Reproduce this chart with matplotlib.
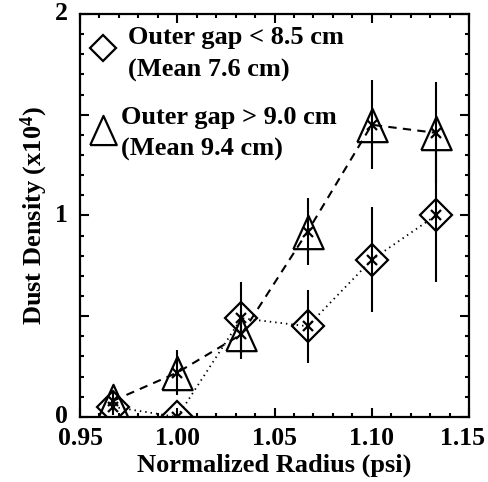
import numpy as np
import matplotlib
matplotlib.use('Agg')
import matplotlib.pyplot as plt
from matplotlib.ticker import MultipleLocator, FixedFormatter, FixedLocator
from matplotlib.transforms import ScaledTranslation

plt.rcParams['font.family'] = 'Liberation Serif'
plt.rcParams['font.weight'] = 'bold'
plt.rcParams['mathtext.fontset'] = 'custom'
plt.rcParams['mathtext.rm'] = 'Liberation Serif:bold'
plt.rcParams['mathtext.bf'] = 'Liberation Serif:bold'
plt.rcParams['mathtext.default'] = 'rm'

# data
radius = [0.967, 1.000, 1.033, 1.067, 1.100, 1.133]
small_gap = [0.05, 0.00, 0.49, 0.45, 0.78, 1.00]
small_err = [0.04, 0.00, 0.18, 0.18, 0.26, 0.33]
large_gap = [0.08, 0.22, 0.41, 0.92, 1.45, 1.41]
large_err = [0.05, 0.11, 0.12, 0.165, 0.22, 0.25]

x_ticks = [0.95, 1.00, 1.05, 1.10, 1.15]
x_ticklabels = ['0.95', '1.00', '1.05', '1.10', '1.15']
y_ticks = [0, 0.5, 1, 1.5, 2]
y_ticklabels = ['0', '', '1', '', '2']

# slightly tall open triangle, centred on the point (like the IDL symbol)
tri = [(-1, -1.1), (1, -1.1), (0, 1.1), (-1, -1.1)]

fig = plt.figure(figsize=(4.88, 4.82), dpi=100)
ax = fig.add_axes([0.164, 0.135, 0.797, 0.836])

# small gap: diamonds, dotted
ax.errorbar(radius, small_gap, yerr=small_err, fmt='none', ecolor='black', elinewidth=1.5)
ax.plot(radius, small_gap, color='black', linestyle=(0, (0.8, 2.2)), linewidth=1.3)
ax.plot(radius, small_gap, linestyle='none', marker='D', markersize=16.5,
        markerfacecolor='none', markeredgecolor='black', markeredgewidth=1.6)
ax.plot(radius, small_gap, linestyle='none', marker='x', markersize=7,
        color='black', markeredgewidth=1.6)

# large gap: triangles, dashed
ax.errorbar(radius, large_gap, yerr=large_err, fmt='none', ecolor='black', elinewidth=1.5)
ax.plot(radius, large_gap, color='black', linestyle=(0, (4, 3)), linewidth=1.5)
ax.plot(radius, large_gap, linestyle='none', marker=tri, markersize=24,
        markerfacecolor='none', markeredgecolor='black', markeredgewidth=1.6)
ax.plot(radius, large_gap, linestyle='none', marker='x', markersize=7,
        color='black', markeredgewidth=1.6)

# legend drawn by hand
ax.plot([0.059], [0.916], transform=ax.transAxes, marker='D', markersize=13.5,
        markerfacecolor='none', markeredgecolor='black', markeredgewidth=1.6, clip_on=False)
ax.text(0.123, 0.901, 'Outer gap < 8.5 cm\n(Mean 7.6 cm)', transform=ax.transAxes,
        fontsize=19, fontweight='bold', ha='left', va='center', linespacing=1.5)
ax.plot([0.059], [0.712], transform=ax.transAxes, marker=tri, markersize=21,
        markerfacecolor='none', markeredgecolor='black', markeredgewidth=1.6, clip_on=False)
ax.text(0.105, 0.703, 'Outer gap > 9.0 cm\n(Mean 9.4 cm)', transform=ax.transAxes,
        fontsize=19, fontweight='bold', ha='left', va='center', linespacing=1.5)

ax.set_xlim(0.95, 1.15)
ax.set_ylim(0, 2)
ax.xaxis.set_major_locator(FixedLocator(x_ticks))
ax.xaxis.set_major_formatter(FixedFormatter(x_ticklabels))
ax.xaxis.set_minor_locator(MultipleLocator(0.01))
ax.yaxis.set_major_locator(FixedLocator(y_ticks))
ax.yaxis.set_major_formatter(FixedFormatter(y_ticklabels))
ax.yaxis.set_minor_locator(MultipleLocator(0.1))

ax.tick_params(which='both', direction='in', top=True, right=True, width=1.5,
               labelsize=18.5)
ax.tick_params(which='major', length=6.5)
ax.tick_params(which='minor', length=3)
ax.tick_params(axis='x', pad=7)
ax.tick_params(axis='y', pad=9)
for s in ax.spines.values():
    s.set_linewidth(1.6)

ax.set_xlabel('Normalized Radius (psi)', fontsize=19, fontweight='bold', labelpad=3)
ax.set_ylabel(r'Dust Density (x10$^{4}$)', fontsize=19, fontweight='bold', labelpad=3.5)

# last x label sits a little left of its tick, as in the original
last = ax.xaxis.get_major_ticks()[-1].label1
last.set_transform(last.get_transform() + ScaledTranslation(-5 / 72, 0, fig.dpi_scale_trans))
# y labels nudged up a touch
for t in ax.yaxis.get_major_ticks():
    t.label1.set_transform(t.label1.get_transform() + ScaledTranslation(0, 2 / 72, fig.dpi_scale_trans))

fig.savefig('out.png', dpi=100)
